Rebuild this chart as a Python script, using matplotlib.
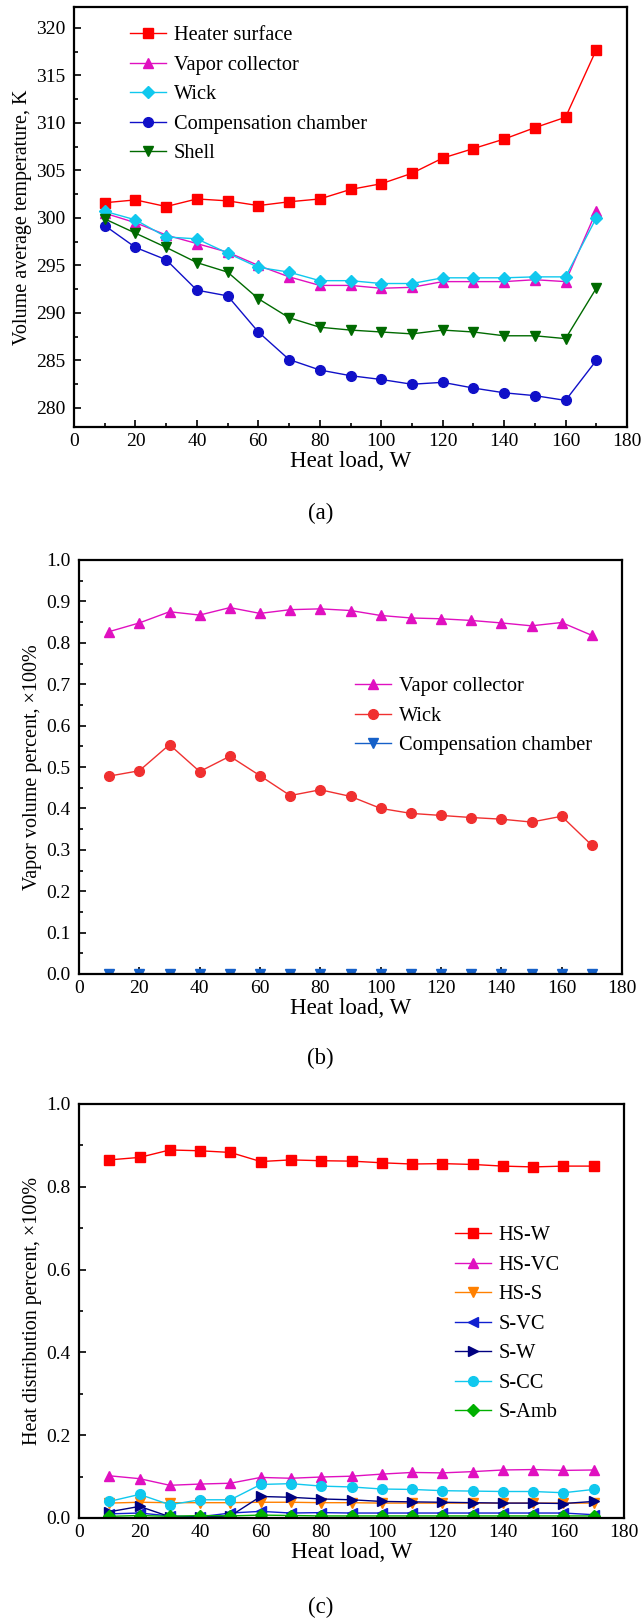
import matplotlib
matplotlib.use("Agg")
import matplotlib.pyplot as plt
from matplotlib.ticker import MultipleLocator
import numpy as np

plt.rcParams['font.family'] = ['Liberation Serif', 'DejaVu Serif']

heat_load = [10, 20, 30, 40, 50, 60, 70, 80, 90, 100, 110, 120, 130, 140, 150, 160, 170]

# (a) volume average temperature, K
t_heater = [301.6, 301.9, 301.2, 302.0, 301.8, 301.3, 301.7, 302.0, 303.0, 303.6, 304.7, 306.3, 307.3, 308.3, 309.5, 310.6, 317.7]
t_vapor = [300.5, 299.5, 298.2, 297.3, 296.4, 295.0, 293.8, 292.9, 292.9, 292.6, 292.7, 293.3, 293.3, 293.3, 293.5, 293.3, 300.7]
t_wick = [300.7, 299.8, 298.0, 297.8, 296.3, 294.8, 294.3, 293.4, 293.4, 293.1, 293.1, 293.7, 293.7, 293.7, 293.8, 293.8, 300.0]
t_cc = [299.2, 296.9, 295.6, 292.4, 291.8, 288.0, 285.1, 284.0, 283.4, 283.0, 282.5, 282.7, 282.1, 281.6, 281.3, 280.8, 285.0]
t_shell = [299.9, 298.4, 296.9, 295.3, 294.3, 291.5, 289.5, 288.5, 288.2, 288.0, 287.8, 288.2, 288.0, 287.6, 287.6, 287.3, 292.6]

# (b) vapor volume percent
v_vapor = [0.827, 0.848, 0.875, 0.867, 0.885, 0.871, 0.880, 0.882, 0.878, 0.866, 0.860, 0.858, 0.854, 0.848, 0.841, 0.849, 0.818]
v_wick = [0.478, 0.491, 0.554, 0.489, 0.526, 0.479, 0.431, 0.445, 0.429, 0.400, 0.388, 0.383, 0.378, 0.374, 0.367, 0.381, 0.311]
v_cc = [0.001] * 17

# (c) heat distribution percent
q_hs_w = [0.865, 0.871, 0.889, 0.887, 0.883, 0.861, 0.865, 0.863, 0.862, 0.858, 0.855, 0.856, 0.854, 0.850, 0.848, 0.850, 0.850]
q_hs_vc = [0.102, 0.095, 0.079, 0.082, 0.084, 0.098, 0.096, 0.099, 0.101, 0.106, 0.110, 0.109, 0.112, 0.116, 0.117, 0.115, 0.116]
q_hs_s = [0.036, 0.038, 0.037, 0.037, 0.037, 0.038, 0.038, 0.037, 0.037, 0.036, 0.036, 0.036, 0.036, 0.036, 0.036, 0.036, 0.036]
q_s_vc = [0.010, 0.012, 0.005, 0.003, 0.012, 0.016, 0.012, 0.013, 0.012, 0.012, 0.012, 0.012, 0.012, 0.012, 0.012, 0.012, 0.008]
q_s_w = [0.015, 0.028, 0.003, 0.002, 0.005, 0.052, 0.050, 0.046, 0.044, 0.040, 0.039, 0.038, 0.037, 0.036, 0.036, 0.035, 0.040]
q_s_cc = [0.040, 0.057, 0.032, 0.044, 0.044, 0.081, 0.083, 0.077, 0.075, 0.070, 0.069, 0.066, 0.065, 0.064, 0.064, 0.061, 0.069]
q_s_amb = [0.004, 0.006, 0.004, 0.006, 0.005, 0.007, 0.006, 0.005, 0.005, 0.005, 0.005, 0.005, 0.005, 0.005, 0.005, 0.005, 0.005]

RED = '#ff0000'
MAG = '#e010c0'
CYAN = '#10c8ee'
BLUE = '#1010c8'
GREEN = '#006a00'

W, H = 641, 1622
fig = plt.figure(figsize=(W / 100, H / 100), dpi=100)

XLAB = 16.5
YLAB = 14.5
TICK = 14
LEG = 14.7


def px_axes(left, top, right, bottom):
    return fig.add_axes([left / W, 1 - bottom / H, (right - left) / W, (bottom - top) / H])


def style(ax):
    for s in ax.spines.values():
        s.set_linewidth(1.6)
    ax.tick_params(which='both', direction='in', labelsize=TICK, width=1.2)
    ax.tick_params(which='major', length=5)
    ax.tick_params(which='minor', length=3)
    ax.tick_params(axis='y', pad=6)
    ax.tick_params(axis='x', pad=4)
    ax.set_xlim(0, 180)
    ax.xaxis.set_major_locator(MultipleLocator(20))
    ax.set_xlabel('Heat load, W', fontsize=XLAB, labelpad=1)


def legend(ax, x, y):
    ax.legend(loc='upper left', bbox_to_anchor=(x / W, 1 - y / H), bbox_transform=fig.transFigure,
              frameon=False, fontsize=LEG, handlelength=1.75, handletextpad=0.4, labelspacing=0.5,
              borderpad=0, borderaxespad=0)


kw = dict(lw=1.0, ms=7)

# ---- (a)
ax1 = px_axes(74, 7, 627, 427)
ax1.plot(heat_load, t_heater, 's-', color=RED, label='Heater surface', **kw)
ax1.plot(heat_load, t_vapor, '^-', color=MAG, label='Vapor collector', **kw)
ax1.plot(heat_load, t_wick, 'D-', color=CYAN, label='Wick', lw=1.0, ms=6.5)
ax1.plot(heat_load, t_cc, 'o-', color=BLUE, label='Compensation chamber', **kw)
ax1.plot(heat_load, t_shell, 'v-', color=GREEN, label='Shell', **kw)
style(ax1)
ax1.set_ylim(278, 322.2)
ax1.yaxis.set_major_locator(MultipleLocator(5))
ax1.yaxis.set_minor_locator(MultipleLocator(2.5))
ax1.xaxis.set_minor_locator(MultipleLocator(10))
ax1.set_ylabel('Volume average temperature, K', fontsize=YLAB, labelpad=3)
legend(ax1, 130, 26)
fig.text(0.5, 1 - 513 / H, '(a)', ha='center', va='center', fontsize=16.5)

# ---- (b)
ax2 = px_axes(79, 560, 622, 974)
ax2.plot(heat_load, v_vapor, '^-', color=MAG, label='Vapor collector', **kw)
ax2.plot(heat_load, v_wick, 'o-', color='#f03030', label='Wick', **kw)
ax2.plot(heat_load, v_cc, 'v-', color='#1560c8', label='Compensation chamber', **kw)
style(ax2)
ax2.set_ylim(0, 1.0)
ax2.yaxis.set_major_locator(MultipleLocator(0.1))
ax2.yaxis.set_minor_locator(MultipleLocator(0.05))
ax2.yaxis.set_major_formatter(lambda v, p: f'{v:.1f}')
ax2.set_ylabel('Vapor volume percent, ×100%', fontsize=YLAB, labelpad=3)
legend(ax2, 355, 677)
fig.text(0.5, 1 - 1058 / H, '(b)', ha='center', va='center', fontsize=16.5)

# ---- (c)
ax3 = px_axes(79, 1104, 624, 1518)
ax3.plot(heat_load, q_hs_w, 's-', color=RED, label='HS-W', **kw)
ax3.plot(heat_load, q_hs_vc, '^-', color=MAG, label='HS-VC', **kw)
ax3.plot(heat_load, q_hs_s, 'v-', color='#ff8000', label='HS-S', **kw)
ax3.plot(heat_load, q_s_vc, '<-', color='#1020d0', label='S-VC', **kw)
ax3.plot(heat_load, q_s_w, '>-', color='#000080', label='S-W', **kw)
ax3.plot(heat_load, q_s_cc, 'o-', color=CYAN, label='S-CC', **kw)
ax3.plot(heat_load, q_s_amb, 'D-', color='#00b000', label='S-Amb', lw=1.0, ms=6.5)
style(ax3)
ax3.set_ylim(0, 1.0)
ax3.yaxis.set_major_locator(MultipleLocator(0.2))
ax3.yaxis.set_minor_locator(MultipleLocator(0.1))
ax3.yaxis.set_major_formatter(lambda v, p: f'{v:.1f}')
ax3.set_ylabel('Heat distribution percent, ×100%', fontsize=YLAB, labelpad=3)
legend(ax3, 455, 1226)
fig.text(0.5, 1 - 1607 / H, '(c)', ha='center', va='center', fontsize=16.5)

fig.savefig('out.png', dpi=100)
